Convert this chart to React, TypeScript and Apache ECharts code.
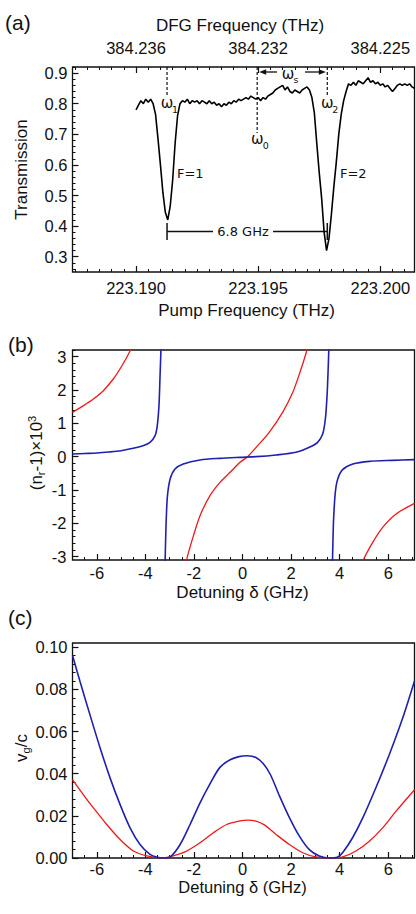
import React, { useEffect, useRef } from 'react';
import * as echarts from 'echarts';

// ---------- Panel (a): transmission vs pump frequency ----------
const pumpStartTHz = 223.19;
const pumpStepTHz = 0.0001;
const transmission = [
  0.78, 0.795, 0.81, 0.8, 0.815, 0.805, 0.815, 0.8, 0.765, 0.685,
  0.6, 0.51, 0.445, 0.42, 0.465, 0.55, 0.67, 0.76, 0.8, 0.81,
  0.805, 0.815, 0.8, 0.81, 0.805, 0.81, 0.8, 0.81, 0.805, 0.8,
  0.81, 0.8, 0.805, 0.795, 0.8, 0.79, 0.8, 0.795, 0.805, 0.8,
  0.81, 0.805, 0.815, 0.81, 0.815, 0.82, 0.815, 0.825, 0.82, 0.815,
  0.82, 0.81, 0.82, 0.815, 0.825, 0.83, 0.835, 0.845, 0.85, 0.855,
  0.86, 0.845, 0.855, 0.84, 0.835, 0.845, 0.84, 0.835, 0.845, 0.85,
  0.855, 0.845, 0.82, 0.77, 0.67, 0.575, 0.49, 0.38, 0.32, 0.36,
  0.44, 0.53, 0.61, 0.7, 0.765, 0.81, 0.84, 0.865, 0.86, 0.87,
  0.86, 0.875, 0.87, 0.865, 0.875, 0.885, 0.87, 0.875, 0.865, 0.87,
  0.86, 0.865, 0.855, 0.86, 0.85, 0.84, 0.85, 0.86, 0.865, 0.86,
  0.865, 0.86, 0.865, 0.855, 0.85,
];
const pumpTicks = [223.19, 223.195, 223.2];
const dfgTickLabels = ['384.236', '384.232', '384.225'];
const transTicks = [0.3, 0.4, 0.5, 0.6, 0.7, 0.8, 0.9];
// annotation frequencies (THz)
const omega1THz = 223.19127;
const omega0THz = 223.19496;
const omega2THz = 223.19783;

// ---------- Panel (b): (n_r - 1) x 10^3 vs detuning ----------
const detuningTicks = [-6, -4, -2, 0, 2, 4, 6];
const indexTicks = [-3, -2, -1, 0, 1, 2, 3];
const nBlue1: [number, number][] = [
  [-7, 0.08], [-6.5, 0.095], [-6, 0.11], [-5.5, 0.14], [-5, 0.18], [-4.5, 0.25],
  [-4.1, 0.33], [-3.81, 0.43], [-3.6, 0.63], [-3.51, 0.93], [-3.44, 1.53],
  [-3.4, 2.33], [-3.36, 3.17], [-3.34, 3.6],
];
const nBlue2: [number, number][] = [
  [-3.2, -3.6], [-3.17, -2.6], [-3.14, -1.86], [-3.09, -1.17], [-2.98, -0.67], [-2.78, -0.37],
  [-2.44, -0.22], [-1.75, -0.1], [-0.93, -0.05], [-0.1, -0.02], [0.56, 0.0],
  [1.38, 0.05], [2.2, 0.13], [2.75, 0.28], [3.09, 0.43], [3.3, 0.68],
  [3.41, 1.13], [3.48, 1.83], [3.52, 2.52], [3.55, 3.17], [3.56, 3.6],
];
const nBlue3: [number, number][] = [
  [3.69, -3.6], [3.72, -2.6], [3.75, -1.86], [3.82, -1.07], [3.92, -0.67], [4.12, -0.39],
  [4.54, -0.22], [5.22, -0.14], [6.18, -0.11], [7.08, -0.09],
];
const nRed1: [number, number][] = [
  [-7, 1.33], [-6.55, 1.53], [-6.14, 1.73], [-5.73, 1.98], [-5.32, 2.33],
  [-4.97, 2.72], [-4.63, 3.17], [-4.5, 3.4],
];
const nRed2: [number, number][] = [
  [-2.38, -3.4], [-2.3, -3.08], [-2.02, -2.37], [-1.75, -1.77], [-1.34, -1.17],
  [-0.93, -0.77], [-0.51, -0.47], [-0.1, -0.17], [0.21, 0.0], [0.56, 0.28],
  [1.1, 0.73], [1.65, 1.33], [2.07, 1.93], [2.41, 2.63], [2.64, 3.17], [2.7, 3.4],
];
const nRed3: [number, number][] = [
  [4.9, -3.4], [4.99, -3.08], [5.36, -2.57], [5.77, -2.12], [6.32, -1.72], [7.08, -1.4],
];

// ---------- Panel (c): v_g / c vs detuning ----------
const vgTicks = [0, 0.02, 0.04, 0.06, 0.08, 0.1];
const vgBlue: [number, number][] = [
  [-7, 0.0962], [-6.69, 0.0837], [-6.28, 0.0679], [-5.86, 0.0521], [-5.45, 0.0379],
  [-5.04, 0.0253], [-4.63, 0.0143], [-4.22, 0.0064], [-3.81, 0.0017], [-3.5, 0.0003],
  [-3.25, 0.0], [-2.95, 0.0008], [-2.57, 0.0064], [-2.16, 0.0159], [-1.75, 0.0262],
  [-1.34, 0.0352], [-0.93, 0.043], [-0.51, 0.0466], [-0.15, 0.0481], [0.2, 0.0485],
  [0.55, 0.0477], [0.85, 0.0448], [1.15, 0.0395], [1.52, 0.0295], [1.93, 0.0192],
  [2.34, 0.0104], [2.75, 0.004], [3.16, 0.001], [3.6, 0.0], [3.9, 0.0004], [4.12, 0.0025],
  [4.53, 0.0096], [4.95, 0.019], [5.49, 0.0333], [6.04, 0.049], [6.59, 0.0663],
  [7.08, 0.084],
];
const vgRed: [number, number][] = [
  [-7, 0.0372], [-6.55, 0.03], [-6.14, 0.0238], [-5.59, 0.0159], [-5.04, 0.0088],
  [-4.49, 0.0033], [-3.94, 0.001], [-3.33, 0.0], [-2.85, 0.001], [-2.3, 0.0033],
  [-1.75, 0.0072], [-1.2, 0.012], [-0.65, 0.0159], [-0.1, 0.0176], [0.21, 0.018],
  [0.55, 0.0175], [0.9, 0.0157], [1.38, 0.0112], [1.93, 0.0064], [2.48, 0.0025], [3.02, 0.0005],
  [3.58, 0.0], [4.12, 0.0005], [4.67, 0.0033], [5.22, 0.008], [5.77, 0.0143],
  [6.32, 0.0222], [7.08, 0.0324],
];

const BLUE = '#2020b0';
const RED = '#f01818';
const TICK_FONT = 'Liberation Sans';
const ANN_FONT = 'DejaVu Sans';

const steps = (a: number, b: number, s: number) => {
  const out: number[] = [];
  const n = Math.round((b - a) / s);
  for (let i = 0; i <= n; i++) out.push(+(a + i * s).toFixed(6));
  return out;
};

function majorAxis(gridIndex: number, position: string, min: number, max: number, ticks: number[], fmt: (v: number) => string, margin: number, showLabel = true) {
  return {
    type: 'value', gridIndex, position, min, max,
    axisLine: { show: false, onZero: false },
    splitLine: { show: false },
    axisTick: { show: true, inside: true, length: 6, customValues: ticks, lineStyle: { color: '#111', width: 1.2 } },
    axisLabel: { show: showLabel, customValues: ticks, formatter: fmt, margin, color: '#111', fontSize: 16.5, fontFamily: TICK_FONT },
  };
}
function minorAxis(gridIndex: number, position: string, min: number, max: number, ticks: number[]) {
  return {
    type: 'value', gridIndex, position, min, max,
    axisLine: { show: false, onZero: false },
    splitLine: { show: false },
    axisTick: { show: true, inside: true, length: 3, customValues: ticks, lineStyle: { color: '#111', width: 1 } },
    axisLabel: { show: false },
  };
}

const A_X: [number, number] = [223.1874, 223.2014];
const A_Y: [number, number] = [0.25, 0.92];
const D_X: [number, number] = [-7, 7.08];
const B_Y: [number, number] = [-3.1, 3.2];
const C_Y: [number, number] = [0, 0.102];

const lineSeries = (data: [number, number][], color: string, xi: number, yi: number, width = 1.6) => ({
  type: 'line', data, xAxisIndex: xi, yAxisIndex: yi, showSymbol: false, symbol: 'none',
  smooth: 0.3, clip: true, silent: true,
  lineStyle: { color, width },
});

export default function App() {
  const ref = useRef<HTMLDivElement>(null);
  useEffect(() => {
    document.body.style.margin = '0';
    const chart = echarts.init(ref.current!, null, { renderer: 'svg' });
    const gridBase = { left: 72.5, width: 342, show: true, borderColor: '#111', borderWidth: 1.3, backgroundColor: 'transparent', containLabel: false };
    const transData = transmission.map((t, i) => [+(pumpStartTHz + i * pumpStepTHz).toFixed(5), t]);
    const option: any = {
      animation: false,
      grid: [
        { ...gridBase, top: 67, height: 205 },
        { ...gridBase, top: 350, height: 210 },
        { ...gridBase, top: 643, height: 215 },
      ],
      xAxis: [
        majorAxis(0, 'bottom', A_X[0], A_X[1], pumpTicks, (v) => v.toFixed(3), 7),
        minorAxis(0, 'bottom', A_X[0], A_X[1], steps(223.1875, 223.201, 0.0005)),
        majorAxis(0, 'top', A_X[0], A_X[1], pumpTicks, (v) => dfgTickLabels[pumpTicks.findIndex((p) => Math.abs(p - v) < 1e-6)] ?? '', 11),
        minorAxis(0, 'top', A_X[0], A_X[1], steps(223.1875, 223.201, 0.0005)),
        majorAxis(1, 'bottom', D_X[0], D_X[1], detuningTicks, (v) => String(v), 4),
        minorAxis(1, 'bottom', D_X[0], D_X[1], steps(-7, 7, 0.5)),
        majorAxis(2, 'bottom', D_X[0], D_X[1], detuningTicks, (v) => String(v), 2),
        minorAxis(2, 'bottom', D_X[0], D_X[1], steps(-7, 7, 0.5)),
      ],
      yAxis: [
        majorAxis(0, 'left', A_Y[0], A_Y[1], transTicks, (v) => v.toFixed(1), 5),
        minorAxis(0, 'left', A_Y[0], A_Y[1], steps(0.26, 0.92, 0.02)),
        majorAxis(1, 'left', B_Y[0], B_Y[1], indexTicks, (v) => String(v), 6),
        minorAxis(1, 'left', B_Y[0], B_Y[1], steps(-3, 3.2, 0.2)),
        majorAxis(2, 'left', C_Y[0], C_Y[1], vgTicks, (v) => v.toFixed(2), 5),
        minorAxis(2, 'left', C_Y[0], C_Y[1], steps(0, 0.1, 0.004)),
      ],
      series: [
        { type: 'line', data: transData, xAxisIndex: 0, yAxisIndex: 0, showSymbol: false, symbol: 'none', silent: true, lineStyle: { color: '#000', width: 1.6 } },
        lineSeries(nRed1, RED, 4, 2, 1.3),
        lineSeries(nRed2, RED, 4, 2, 1.3),
        lineSeries(nRed3, RED, 4, 2, 1.3),
        lineSeries(nBlue1, BLUE, 4, 2),
        lineSeries(nBlue2, BLUE, 4, 2),
        lineSeries(nBlue3, BLUE, 4, 2),
        lineSeries(vgRed, RED, 6, 4, 1.3),
        lineSeries(vgBlue, BLUE, 6, 4),
      ],
    };
    chart.setOption(option);

    const toPx = (x: number, y: number) => chart.convertToPixel({ xAxisIndex: 0, yAxisIndex: 0 }, [x, y]) as number[];
    const topY = toPx(omega1THz, A_Y[1])[1];
    const w1 = toPx(omega1THz, 0.8285);
    const w0 = toPx(omega0THz, 0.704);
    const w2 = toPx(omega2THz, 0.8285);

    const T = (x: number, y: number, text: string, size: number, family = TICK_FONT, align = 'center', extra: any = {}) => ({
      type: 'text', x, y, silent: true,
      style: { text, fill: '#111', fontSize: size, fontFamily: family, align, verticalAlign: 'middle', ...extra },
    });
    const L = (x1: number, y1: number, x2: number, y2: number, dash: any = null, width = 1.3) => ({
      type: 'line', silent: true,
      shape: { x1, y1, x2, y2 },
      style: { stroke: '#111', lineWidth: width, lineDash: dash },
    });

    const arrowY = 72;
    const barY = 231.5;
    const graphic: any[] = [
      T(5, 22, '(a)', 21, TICK_FONT, 'left'),
      T(240, 25, 'DFG Frequency (THz)', 17),
      T(246.5, 310, 'Pump Frequency (THz)', 17),
      { ...T(21, 169.5, 'Transmission', 17), rotation: Math.PI / 2 },
      // omega markers
      L(w1[0], topY, w1[0], w1[1], [3, 2], 1.2),
      L(w0[0], topY, w0[0], w0[1], [3, 2], 1.2),
      L(w2[0], topY, w2[0], w2[1], [3, 2], 1.2),
      T(w1[0], 102.5, 'ω', 15, ANN_FONT),
      T(w1[0] + 8, 109, '1', 9.5, ANN_FONT),
      T(w0[0], 139, 'ω', 15, ANN_FONT),
      T(w0[0] + 8.5, 145.5, '0', 9.5, ANN_FONT),
      T(w2[0], 102.5, 'ω', 15, ANN_FONT),
      T(w2[0] + 8, 109, '2', 9.5, ANN_FONT),
      // omega_s arrows
      L(w0[0] + 6, arrowY, 277, arrowY, null, 1.3),
      { type: 'polygon', silent: true, shape: { points: [[w0[0] + 2, arrowY], [w0[0] + 9, arrowY - 2.8], [w0[0] + 9, arrowY + 2.8]] }, style: { fill: '#111' } },
      T(288, 74, 'ω', 15, ANN_FONT),
      T(296, 79, 's', 9.5, ANN_FONT),
      L(305, arrowY, w2[0] - 6, arrowY, null, 1.3),
      { type: 'polygon', silent: true, shape: { points: [[w2[0] - 1.5, arrowY], [w2[0] - 8.5, arrowY - 2.8], [w2[0] - 8.5, arrowY + 2.8]] }, style: { fill: '#111' } },
      // F labels
      T(177, 173, 'F=1', 13, ANN_FONT, 'left'),
      T(340, 173, 'F=2', 13, ANN_FONT, 'left'),
      // 6.8 GHz bar
      L(w1[0], 223, w1[0], 240, null, 1.5),
      L(w1[0], barY, 213, barY, null, 1.5),
      T(243, barY, '6.8 GHz', 13, ANN_FONT),
      L(273, barY, w2[0], barY, null, 1.5),
      L(w2[0], 223, w2[0], 240, null, 1.5),
      // panel (b)
      T(8, 344, '(b)', 21, TICK_FONT, 'left'),
      {
        type: 'text', x: 36, y: 453, rotation: Math.PI / 2, silent: true,
        style: {
          text: '(n{s|r}-1)×10{p|3}', fill: '#111', fontSize: 17, fontFamily: TICK_FONT, align: 'center', verticalAlign: 'middle',
          rich: { s: { fontSize: 11, fontFamily: TICK_FONT, verticalAlign: 'bottom', padding: [9, 0, 0, 0] }, p: { fontSize: 11, fontFamily: TICK_FONT, verticalAlign: 'top', padding: [0, 0, 8, 0] } },
        },
      },
      T(242.5, 592, 'Detuning δ (GHz)', 17),
      // panel (c)
      T(8, 617, '(c)', 21, TICK_FONT, 'left'),
      {
        type: 'text', x: 21, y: 748, rotation: Math.PI / 2, silent: true,
        style: {
          text: 'v{s|g}/c', fill: '#111', fontSize: 17, fontFamily: TICK_FONT, align: 'center', verticalAlign: 'middle',
          rich: { s: { fontSize: 11, fontFamily: TICK_FONT, verticalAlign: 'bottom', padding: [9, 0, 0, 0] } },
        },
      },
      T(242.5, 887, 'Detuning δ (GHz)', 16.5),
    ];
    chart.setOption({ graphic });
    return () => chart.dispose();
  }, []);
  return <div ref={ref} style={{ position: 'absolute', left: 0, top: 0, width: 416, height: 914 }} />;
}
